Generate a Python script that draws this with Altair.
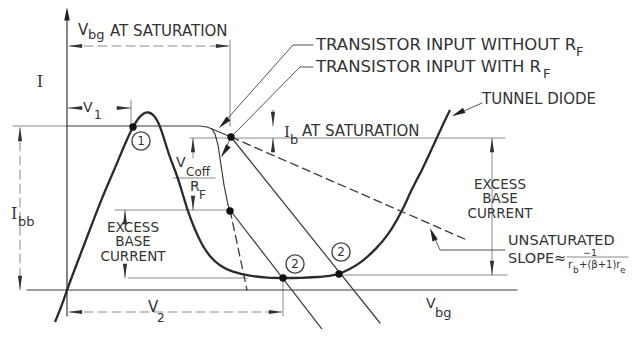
import altair as alt
import pandas as pd
import numpy as np

# ------------------------------------------------------------------
# Values (x to the right, y downward, pixels)
# ------------------------------------------------------------------
# Tunnel diode characteristic (thick curve)
diode_x = [55, 62, 68, 76, 84, 92, 100, 108, 115, 122, 128, 133, 139, 144, 148, 153, 158,
           162, 166, 170, 177, 183, 188, 195, 202, 210, 220, 232, 250, 268, 283, 300, 318,
           330, 339, 350, 362, 377, 388, 397, 404, 410, 416, 422, 428, 434, 440, 445, 450]
diode_y = [322, 305, 287, 266, 245, 224, 203, 184, 168, 151, 137, 127, 117, 113, 112, 114, 121,
           132, 145, 158, 175, 195, 212, 230, 245, 257, 266, 272, 276, 278, 278, 278, 277,
           276, 274, 269, 262, 248, 235, 220, 207, 193, 181, 170, 157, 144, 131, 120, 110]

# Transistor input curve (flat at saturation, then rounding down)
trans_x = [67, 200, 207, 212, 215, 218, 221, 224, 228, 230]
trans_y = [126, 126, 127, 129, 134, 145, 165, 185, 205, 210]

# Thin solid dark lines: (xs, ys)
axis_v = ([67, 67], [18, 316])
axis_h = ([27, 517], [290, 290])
bend_rf = ([212, 231], [129, 137])
load_1 = ([231, 380], [137, 323])
load_2 = ([230, 325], [210, 333])
lead_1 = ([313, 293, 220], [45, 45, 127])
lead_2 = ([313, 300, 231, 222], [67, 67, 137, 156])
lead_td = ([482, 455], [103, 115])
lead_us = ([505, 440, 432], [250, 250, 232])

# Dashed dark lines
dash_rf = ([230, 247], [210, 290])
dash_unsat = ([231, 467], [137, 240])

# Light dimension / extension lines (solid)
dim_lines = {
    "top_ext": ([13, 67], [126, 126]),
    "ib_low": ([190, 505], [138, 138]),
    "vsat_ext": ([230, 230], [40, 126]),
    "v1_ext": ([131, 131], [100, 126]),
    "v1_l": ([68, 82], [108, 108]),
    "v1_r": ([117, 131], [108, 108]),
    "exc_top": ([115, 230], [210, 210]),
    "exc_low": ([128, 247], [278, 278]),
    "exc_r_low": ([343, 507], [275, 275]),
    "v2_ext": ([283, 283], [280, 316]),
    "exc_r_v": ([492, 492], [138, 275]),
    "exc_l_t": ([125, 125], [210, 222]),
    "exc_l_b": ([125, 125], [266, 278]),
    "vcoff_t": ([193, 193], [138, 158]),
    "vcoff_b": ([193, 193], [196, 210]),
    "ib_t": ([273, 273], [110, 126]),
    "ib_b": ([273, 273], [138, 152]),
    "slope_bar": ([567, 628], [257, 257]),
    "vcoff_bar": ([173, 215], [178, 178]),
}
# Light dashed dimension lines
dim_dashed = {
    "ibb": ([20, 20], [128, 290]),
    "vsat": ([70, 228], [46, 46]),
    "v2": ([70, 281], [312, 312]),
}

# Arrowheads: tip x, tip y, tail x, tail y
dim_tip_x = [68, 230, 68, 131, 273, 273, 193, 193, 125, 125, 20, 20, 68, 283, 492, 492]
dim_tip_y = [46, 46, 108, 108, 126, 138, 138, 210, 210, 278, 127, 290, 312, 312, 138, 275]
dim_tail_x = [90, 213, 82, 117, 273, 273, 193, 193, 125, 125, 20, 20, 85, 266, 492, 492]
dim_tail_y = [46, 46, 108, 108, 110, 152, 152, 196, 224, 264, 143, 273, 312, 312, 154, 258]

lead_tip_x = [67, 219, 221, 452, 430]
lead_tip_y = [7, 128, 157, 116, 228]
lead_tail_x = [67, 230, 229, 465, 435]
lead_tail_y = [25, 117, 145, 110, 240]

# Operating-point dots
dot_x = [133, 231, 230, 283, 339]
dot_y = [127, 137, 211, 278, 274]

# Circled numbers
circ_x = [141, 295, 341]
circ_y = [141, 264, 252]
circ_lbl = ["1", "2", "2"]

# Labels: text, x, y, size, align, font
lbl_text = ["V", "bg", "AT SATURATION", "I", "V", "1", "I", "b", "AT SATURATION",
            "TRANSISTOR INPUT WITHOUT R", "F", "TRANSISTOR INPUT WITH R", "F",
            "TUNNEL DIODE", "V", "Coff", "R", "F",
            "EXCESS", "BASE", "CURRENT", "I", "bb", "V", "2", "V", "bg",
            "EXCESS", "BASE", "CURRENT", "UNSATURATED", "SLOPE≈", "−1",
            "r", "b", "+(β+1)r", "e"]
lbl_x = [78, 88, 110, 40, 83, 94, 284, 290, 302,
         316, 576, 316, 543,
         482, 176, 186, 190, 199,
         133, 133, 133, 11, 18, 148, 157, 426, 435,
         500, 500, 500, 508, 508, 590,
         568, 573, 579, 620]
lbl_y = [30, 35, 31, 82, 108, 115, 132, 140, 131,
         45, 52, 67, 74,
         99, 163, 172, 187, 195,
         227.5, 242, 256.5, 214, 222, 307, 318, 304, 313,
         184.5, 199, 213.5, 241, 259, 253,
         265, 270, 265, 270]
lbl_size = [15, 13, 15, 16, 14, 12, 15, 13, 15,
            16.5, 13, 16.5, 13,
            15, 14, 12, 14, 12,
            13.5, 13.5, 13.5, 16, 13, 15, 12, 14, 13,
            13.5, 13.5, 13.5, 14.5, 14.5, 9.5,
            11, 9, 10, 9]
lbl_align = ["left", "left", "left", "center", "left", "left", "left", "left", "left",
             "left", "left", "left", "left",
             "left", "left", "left", "left", "left",
             "center", "center", "center", "left", "left", "left", "left", "left", "left",
             "center", "center", "center", "left", "left", "center",
             "left", "left", "left", "left"]
lbl_serif = [False, False, False, True, False, False, True, False, False,
             False, False, False, False,
             False, False, False, False, False,
             False, False, False, True, False, False, False, False, False,
             False, False, False, False, False, False,
             False, False, False, False]

# ------------------------------------------------------------------
# Build tables
# ------------------------------------------------------------------
def seg_table(segs):
    rows = []
    for name, (xs, ys) in segs.items():
        for i, (xv, yv) in enumerate(zip(xs, ys)):
            rows.append({"seg": name, "i": i, "x": xv, "y": yv})
    return pd.DataFrame(rows)

thick_df = seg_table({"diode": (diode_x, diode_y)})
thin_df = seg_table({"trans": (trans_x, trans_y), "axis_v": axis_v, "axis_h": axis_h,
                     "bend": bend_rf, "load1": load_1, "load2": load_2})
lead_df = seg_table({"l1": lead_1, "l2": lead_2, "ltd": lead_td, "lus": lead_us})
dash_df = seg_table({"drf": dash_rf, "dus": dash_unsat})
dim_df = seg_table(dim_lines)
dimdash_df = seg_table(dim_dashed)


def arrow_table(tx, ty, fx, fy):
    tx, ty, fx, fy = map(np.asarray, (tx, ty, fx, fy))
    ang = np.degrees(np.arctan2(tx - fx, -(ty - fy))) % 360
    return pd.DataFrame({"x": tx, "y": ty, "ang": ang})

dim_arrows = arrow_table(dim_tip_x, dim_tip_y, dim_tail_x, dim_tail_y)
lead_arrows = arrow_table(lead_tip_x, lead_tip_y, lead_tail_x, lead_tail_y)
dots_df = pd.DataFrame({"x": dot_x, "y": dot_y})
circ_df = pd.DataFrame({"x": circ_x, "y": circ_y, "t": circ_lbl})
lbl_df = pd.DataFrame({"t": lbl_text, "x": lbl_x, "y": lbl_y, "s": lbl_size,
                       "a": lbl_align, "serif": lbl_serif})

# ------------------------------------------------------------------
# Chart
# ------------------------------------------------------------------
W, H = 621, 321
xs = alt.Scale(domain=[8, 8 + W], nice=False, zero=False)
ys = alt.Scale(domain=[8 + H, 8], nice=False, zero=False)
X = alt.X("x:Q", scale=xs, axis=None)
Y = alt.Y("y:Q", scale=ys, axis=None)

INK = "#2b2b2b"
GREY = "#8a8a8a"


def lines(df, color, width, dash=None):
    kw = dict(color=color, strokeWidth=width, strokeCap="round")
    if dash:
        kw["strokeDash"] = dash
    return alt.Chart(df).mark_line(**kw).encode(x=X, y=Y, detail="seg:N", order="i:Q")

thick = alt.Chart(thick_df).mark_line(color=INK, strokeWidth=2.3, interpolate="basis").encode(
    x=X, y=Y, detail="seg:N", order="i:Q")
thin = lines(thin_df, "#3a3a3a", 1.2)
leads = lines(lead_df, "#555555", 1.0)
dashed = lines(dash_df, "#3a3a3a", 1.3, dash=[8, 5])
dims = lines(dim_df, GREY, 1.0)
dimdash = lines(dimdash_df, GREY, 1.0, dash=[9, 5])

narrow = "M0,0L0.3,2L-0.3,2Z"
wide = "M0,0L0.42,2L-0.42,2Z"
arr_dim = alt.Chart(dim_arrows).mark_point(shape=narrow, filled=True, size=200, color="#333333",
                                           opacity=1).encode(
    x=X, y=Y, angle=alt.Angle("ang:Q", scale=None))
arr_lead = alt.Chart(lead_arrows).mark_point(shape=wide, filled=True, size=180, color="#222222",
                                             opacity=1).encode(
    x=X, y=Y, angle=alt.Angle("ang:Q", scale=None))

dots = alt.Chart(dots_df).mark_circle(size=55, color="#111111", opacity=1).encode(x=X, y=Y)
circles = alt.Chart(circ_df).mark_point(shape="circle", filled=False, size=330, color="#444444",
                                        strokeWidth=1.4, opacity=1).encode(x=X, y=Y)
circ_txt = alt.Chart(circ_df).mark_text(font="DejaVu Sans", fontSize=12, color="#333333",
                                        baseline="middle", align="center").encode(
    x=X, y=Y, text="t:N")

text_layers = []
for serif in (False, True):
    for align in ("left", "center"):
        sub = lbl_df[(lbl_df.serif == serif) & (lbl_df.a == align)]
        if len(sub) == 0:
            continue
        text_layers.append(
            alt.Chart(sub).mark_text(font="DejaVu Serif" if serif else "DejaVu Sans",
                                     color="#333333", baseline="middle", align=align).encode(
                x=X, y=Y, text="t:N", size=alt.Size("s:Q", scale=None)))

chart = alt.layer(dims, dimdash, leads, thin, dashed, thick, arr_dim, arr_lead, dots,
                  circles, circ_txt, *text_layers).properties(
    width=W, height=H, padding=0, autosize=alt.AutoSizeParams(type="none"),
    background="white"
).configure_view(stroke=None)

chart.save("out.html", embed_options={"renderer": "svg", "actions": False})
